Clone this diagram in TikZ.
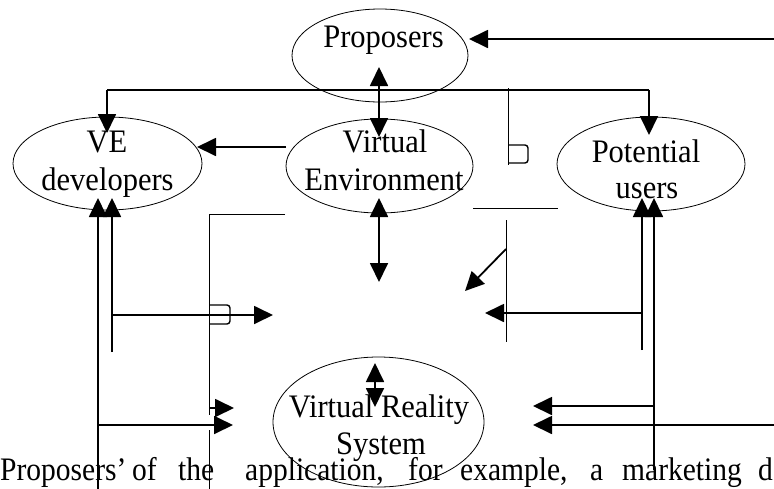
\documentclass[tikz,border=0pt]{standalone}
\usepackage{fontspec}
\setmainfont{Liberation Serif}
\newfontfamily\bubblefont[FakeStretch=0.93]{Liberation Serif}
\newfontfamily\bodyfont[FakeStretch=0.9]{Liberation Serif}
\usetikzlibrary{arrows.meta,shapes.geometric}
\begin{document}
\begin{tikzpicture}[x=1pt,y=-1pt,
  bubble/.style={draw,ellipse,line width=0.8pt,inner sep=0pt},
  lbl/.style={anchor=base,font=\bubblefont\fontsize{32.8}{38}\selectfont,inner sep=0pt},
  body/.style={anchor=base west,font=\bodyfont\fontsize{32.8}{38}\selectfont,inner sep=0pt},
  tip/.tip={Triangle[length=19pt,width=18pt]},
  flow/.style={line width=1.8pt,-tip},
  both/.style={line width=1.8pt,tip-tip},
  bus/.style={line width=1.2pt},
  guide/.style={line width=0.9pt},
  hook/.style={line width=1.4pt,rounded corners=3pt}]
\useasboundingbox (0,0) rectangle (774,488);

% ---- bubbles ----
\node[bubble,minimum width=176pt,minimum height=93pt] (prop) at (380,55.5) {};
\node[bubble,minimum width=189pt,minimum height=93pt] (dev)  at (107.5,163.5) {};
\node[bubble,minimum width=187pt,minimum height=94pt] (venv) at (379.5,166) {};
\node[bubble,minimum width=188pt,minimum height=94pt] (pot)  at (651,164) {};
\node[bubble,minimum width=211pt,minimum height=130pt] (vrs) at (378.5,422) {};

% ---- labels ----
\node[lbl] (tprop) at (383.5,47) {Proposers};
\node[lbl] (tdev1) at (107,152) {VE};
\node[lbl] (tdev2) at (107.5,190) {developers};
\node[lbl] (tenv1) at (385,152) {Virtual};
\node[lbl] (tenv2) at (384,190) {Environment};
\node[lbl] (tpot1) at (646,162) {Potential};
\node[lbl] (tpot2) at (647,198) {users};
\node[lbl] (tvrs1) at (379,417) {Virtual Reality};
\node[lbl] (tvrs2) at (381,454) {System};

% ---- running text line ----
\node[body] (w1) at (0,480) {Proposers’};
\node[body] (w2) at (132,480) {of};
\node[body] (w3) at (178,480) {the};
\node[body] (w4) at (245,480) {application,};
\node[body] (w5) at (408,480) {for};
\node[body] (w6) at (460,480) {example,};
\node[body] (w7) at (590,480) {a};
\node[body] (w8) at (622,480) {marketing};
\node[body] (w9) at (758,480) {d};

% ---- connector end points ----
\coordinate (rin)   at (780,39);
\coordinate (pin)   at (469,39);
\coordinate (pup)   at (379,67);
\coordinate (vdown) at (379,137);
\coordinate (busl)  at (107,90);
\coordinate (busr)  at (649,90);
\coordinate (devin) at (107,133);
\coordinate (potin) at (649,135);
\coordinate (envl)  at (286,147);
\coordinate (devr)  at (197,147);
\coordinate (vup)   at (379,198);
\coordinate (vmid)  at (379,282);
\coordinate (la1)   at (112,352);
\coordinate (la1t)  at (112,198);
\coordinate (la2)   at (98,490);
\coordinate (la2t)  at (98,198);
\coordinate (lh1)   at (112,315);
\coordinate (lh1t)  at (273,315);
\coordinate (lh2)   at (98,425);
\coordinate (lh2t)  at (233,425);
\coordinate (lh3)   at (209,408);
\coordinate (lh3t)  at (234,408);
\coordinate (ra1)   at (642,350);
\coordinate (ra1t)  at (642,198);
\coordinate (ra2)   at (654,470);
\coordinate (ra2t)  at (654,198);
\coordinate (rh1)   at (642,313);
\coordinate (rh1t)  at (485,313);
\coordinate (rh2)   at (654,406);
\coordinate (rh2t)  at (533,406);
\coordinate (rh3)   at (780,425);
\coordinate (rh3t)  at (533,425);
\coordinate (dg)    at (506,249);
\coordinate (dgt)   at (465,291);
\coordinate (sup)   at (375,363);
\coordinate (sdn)   at (375,407);

% ---- thick connectors ----
\draw[flow] (rin) -- (pin);
\draw[both] (pup) -- (vdown);
\draw[bus] (busl) -- (busr);
\draw[flow] (busl) -- (devin);
\draw[flow] (busr) -- (potin);
\draw[flow] (envl) -- (devr);
\draw[both] (vup) -- (vmid);
\draw[flow] (la1) -- (la1t);
\draw[flow] (la2) -- (la2t);
\draw[flow] (lh1) -- (lh1t);
\draw[flow] (lh2) -- (lh2t);
\draw[flow] (lh3) -- (lh3t);
\draw[flow] (ra1) -- (ra1t);
\draw[flow] (ra2) -- (ra2t);
\draw[flow] (rh1) -- (rh1t);
\draw[flow] (rh2) -- (rh2t);
\draw[flow] (rh3) -- (rh3t);
\draw[flow] (dg) -- (dgt);
\draw[both] (sup) -- (sdn);

% ---- thin guide lines ----
\draw[guide] (285,214) -- (209,214) -- (209,415);
\draw[guide] (209,430) -- (209,490);
\draw[guide] (473,208) -- (558,208);
\draw[guide] (506,220) -- (506,342);
\draw[guide] (508,88) -- (508,165);

% ---- line-jump hooks ----
\draw[hook] (209,305) -- (230,305) -- (230,324) -- (209,324);
\draw[hook] (508,145) -- (528,145) -- (528,163) -- (508,163);
\end{tikzpicture}
\end{document}
